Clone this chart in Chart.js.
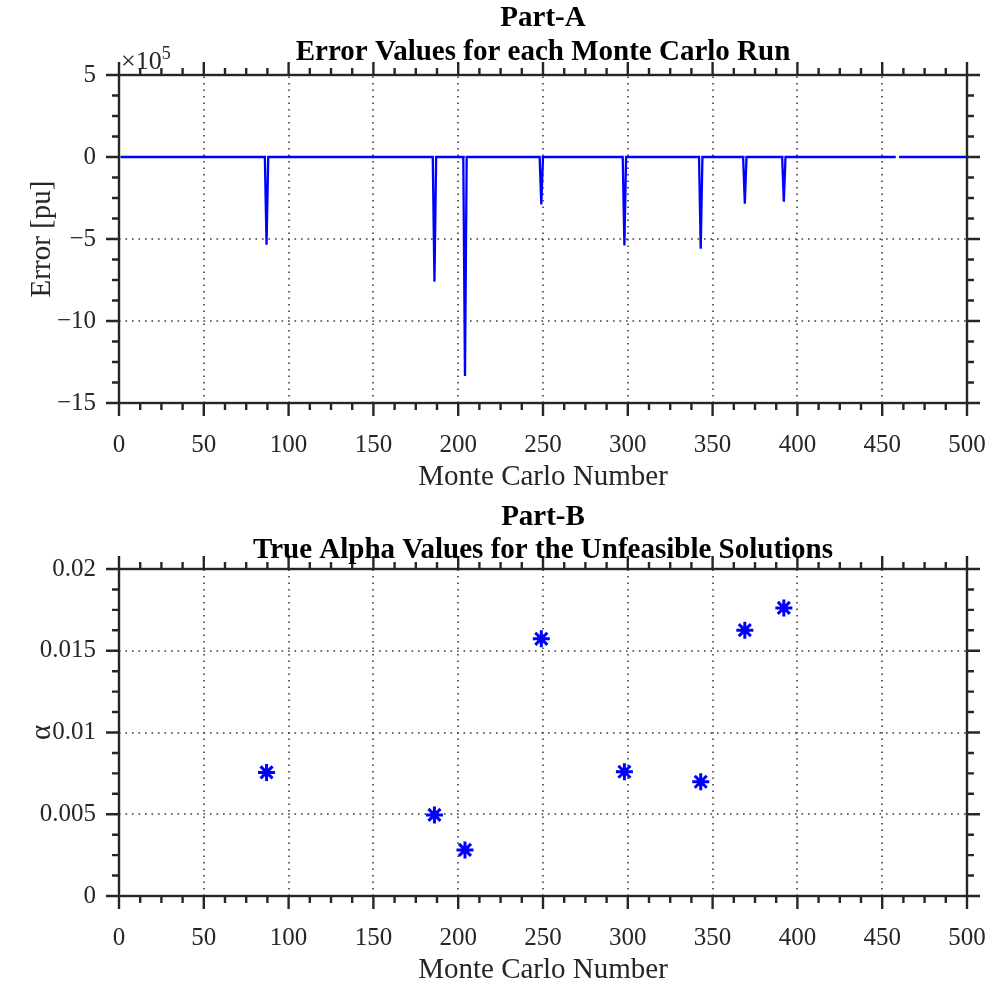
<!DOCTYPE html>
<html>
<head>
<meta charset="utf-8">
<script src="https://cdn.jsdelivr.net/npm/chart.js@4.4.1/dist/chart.umd.min.js"></script>
<style>
  body { margin: 0; background: #fff; }
  #wrap { position: relative; width: 990px; height: 986px; }
  canvas { position: absolute; left: 0; }
</style>
</head>
<body>
<div id="wrap">
  <canvas id="partA" width="990" height="493" style="top:0"></canvas>
  <canvas id="partB" width="990" height="493" style="top:493px"></canvas>
</div>
<script>
// Monte Carlo runs 1..500, error is zero except at the unfeasible runs
const runCount = 500;
const failedRuns = [87, 186, 204, 249, 298, 343, 369, 392];
const errorValues = [-5.35e5, -7.6e5, -13.35e5, -2.9e5, -5.4e5, -5.6e5, -2.85e5, -2.72e5];
const missingRuns = [459]; // NaN in the run, leaves a small gap in the line
const alphaValues = [0.00756, 0.00496, 0.00282, 0.01573, 0.0076, 0.00699, 0.01626, 0.01762];

const xTicks = [0, 50, 100, 150, 200, 250, 300, 350, 400, 450, 500];
const errorTicks = [-15e5, -10e5, -5e5, 0, 5e5];
const errorTickLabels = ['\u221215', '\u221210', '\u22125', '0', '5'];
const alphaTicks = [0, 0.005, 0.01, 0.015, 0.02];
const alphaTickLabels = ['0', '0.005', '0.01', '0.015', '0.02'];

const serif = '"Liberation Serif", "Times New Roman", serif';
const axisColor = '#262626';
const blue = '#0000ff';

// error series: one point per run
const errorSeries = [];
for (let run = 1; run <= runCount; run++) {
    const k = failedRuns.indexOf(run);
    let v = k >= 0 ? errorValues[k] : 0;
    if (missingRuns.includes(run)) v = null;
    errorSeries.push({ x: run, y: v });
}
const alphaSeries = failedRuns.map((run, i) => ({ x: run, y: alphaValues[i] }));

// MATLAB style box, outward ticks, dotted grid and texts
const matlabAxes = {
    id: 'matlabAxes',
    beforeDatasetsDraw(chart, args, opts) {
        const { ctx, chartArea: a, scales: { x, y } } = chart;
        ctx.save();
        ctx.strokeStyle = '#3a3a3a';
        ctx.lineWidth = 1.6;
        ctx.setLineDash([1.6, 4.9]);
        x.ticks.forEach(t => {
            const px = Math.round(x.getPixelForValue(t.value));
            if (px <= a.left + 2 || px >= a.right - 2) return;
            ctx.beginPath(); ctx.moveTo(px, a.bottom); ctx.lineTo(px, a.top); ctx.stroke();
        });
        y.ticks.forEach(t => {
            const py = Math.round(y.getPixelForValue(t.value));
            if (py <= a.top + 2 || py >= a.bottom - 2) return;
            ctx.beginPath(); ctx.moveTo(a.left, py); ctx.lineTo(a.right, py); ctx.stroke();
        });
        ctx.restore();
    },
    afterDatasetsDraw(chart, args, opts) {
        const { ctx, chartArea: a, scales: { x, y } } = chart;
        const major = 13, minor = 7;
        ctx.save();
        ctx.strokeStyle = axisColor;
        ctx.lineWidth = 2.4;
        ctx.strokeRect(a.left, a.top, a.right - a.left, a.bottom - a.top);

        const xTick = (px, len) => {
            ctx.beginPath();
            ctx.moveTo(px, a.bottom); ctx.lineTo(px, a.bottom + len);
            ctx.moveTo(px, a.top); ctx.lineTo(px, a.top - len);
            ctx.stroke();
        };
        const yTick = (py, len) => {
            ctx.beginPath();
            ctx.moveTo(a.left, py); ctx.lineTo(a.left - len, py);
            ctx.moveTo(a.right, py); ctx.lineTo(a.right + len, py);
            ctx.stroke();
        };
        x.ticks.forEach(t => xTick(x.getPixelForValue(t.value), major));
        y.ticks.forEach(t => yTick(y.getPixelForValue(t.value), major));
        for (let v = x.min; v <= x.max + 1e-9; v += opts.xMinor) {
            if (Math.abs(v / 50 - Math.round(v / 50)) > 1e-6) xTick(x.getPixelForValue(v), minor);
        }
        const yMajor = opts.yMinor * 4;
        for (let v = y.min; v <= y.max + 1e-12; v += opts.yMinor) {
            if (Math.abs(v / yMajor - Math.round(v / yMajor)) > 1e-6) yTick(y.getPixelForValue(v), minor);
        }

        const cx = (a.left + a.right) / 2;
        ctx.fillStyle = '#000';
        ctx.textAlign = 'center';
        ctx.textBaseline = 'middle';
        ctx.font = 'bold 29px ' + serif;
        opts.title.forEach((line, i) => ctx.fillText(line, cx, opts.titleY[i]));

        ctx.fillStyle = axisColor;
        ctx.font = '29px ' + serif;
        ctx.fillText(opts.xLabel, cx, opts.xLabelY);
        ctx.save();
        ctx.translate(42, (a.top + a.bottom) / 2);
        ctx.rotate(-Math.PI / 2);
        ctx.fillText(opts.yLabel, 0, 0);
        ctx.restore();

        if (opts.exponent) {
            ctx.textAlign = 'left';
            ctx.textBaseline = 'alphabetic';
            ctx.font = '26px ' + serif;
            ctx.fillText('\u00d710', a.left + 2, a.top - 6);
            const w = ctx.measureText('\u00d710').width;
            ctx.font = '18px ' + serif;
            ctx.fillText(opts.exponent, a.left + 2 + w, a.top - 16);
        }
        ctx.restore();
    }
};

function axisScales(yTicks, yLabels, yMin, yMax) {
    const tickFont = { family: serif, size: 25 };
    return {
        x: {
            type: 'linear', min: 0, max: 500,
            grid: { display: false }, border: { display: false },
            afterBuildTicks: s => { s.ticks = xTicks.map(v => ({ value: v })); },
            ticks: { font: tickFont, color: axisColor, padding: 19, maxRotation: 0, autoSkip: false },
            afterFit: s => { s.height = 90; s.paddingLeft = 0; s.paddingRight = 0; }
        },
        y: {
            type: 'linear', min: yMin, max: yMax,
            grid: { display: false }, border: { display: false },
            afterBuildTicks: s => { s.ticks = yTicks.map(v => ({ value: v })); },
            ticks: {
                font: tickFont, color: axisColor, padding: 15, autoSkip: false,
                callback: (v) => yLabels[yTicks.findIndex(t => Math.abs(t - v) < 1e-9)]
            },
            afterFit: s => { s.width = 119; s.paddingTop = 0; s.paddingBottom = 0; }
        }
    };
}

new Chart(document.getElementById('partA'), {
    type: 'line',
    data: {
        datasets: [{
            data: errorSeries,
            borderColor: blue,
            borderWidth: 2.3,
            pointRadius: 0,
            tension: 0,
            spanGaps: false
        }]
    },
    options: {
        responsive: false,
        animation: false,
        layout: { padding: { left: 0, right: 23, top: 75, bottom: 0 } },
        scales: axisScales(errorTicks, errorTickLabels, -15e5, 5e5),
        plugins: {
            legend: { display: false },
            tooltip: { enabled: false },
            matlabAxes: {
                title: ['Part-A', 'Error Values for each Monte Carlo Run'],
                titleY: [19, 53],
                xLabel: 'Monte Carlo Number', xLabelY: 477,
                yLabel: 'Error [pu]',
                exponent: '5',
                xMinor: 12.5, yMinor: 1.25e5
            }
        }
    },
    plugins: [matlabAxes]
});

new Chart(document.getElementById('partB'), {
    type: 'scatter',
    data: {
        datasets: [{
            data: alphaSeries,
            borderColor: blue,
            backgroundColor: blue,
            pointStyle: 'star',
            pointRadius: 8.5,
            borderWidth: 3
        }]
    },
    options: {
        responsive: false,
        animation: false,
        layout: { padding: { left: 0, right: 23, top: 76, bottom: 0 } },
        scales: axisScales(alphaTicks, alphaTickLabels, 0, 0.02),
        plugins: {
            legend: { display: false },
            tooltip: { enabled: false },
            matlabAxes: {
                title: ['Part-B', 'True Alpha Values for the Unfeasible Solutions'],
                titleY: [25, 58],
                xLabel: 'Monte Carlo Number', xLabelY: 477,
                yLabel: '\u03b1',
                xMinor: 12.5, yMinor: 0.00125
            }
        }
    },
    plugins: [matlabAxes]
});
</script>
</body>
</html>
